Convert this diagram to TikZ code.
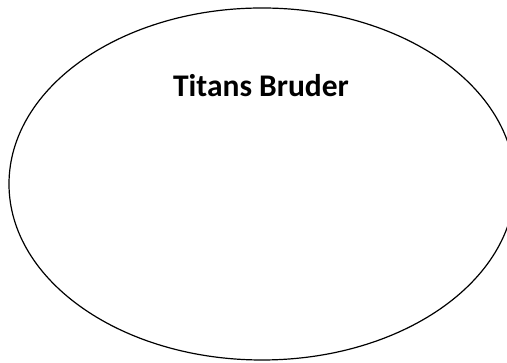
\documentclass[tikz,border=0pt]{standalone}
\usepackage{fontspec}
\setmainfont{Carlito}
\begin{document}
\begin{tikzpicture}[x=1pt,y=1pt,
  outline/.style={draw=black,line width=1.2pt},
  titletext/.style={font=\fontsize{31.5}{36}\selectfont\bfseries,inner sep=0pt,anchor=base}]
\useasboundingbox (0,0) rectangle (507,363);
\draw[outline] (262,179) ellipse [x radius=253, y radius=176];
\node[titletext] (title) at (261,266) {Titans Bruder};
\end{tikzpicture}
\end{document}
